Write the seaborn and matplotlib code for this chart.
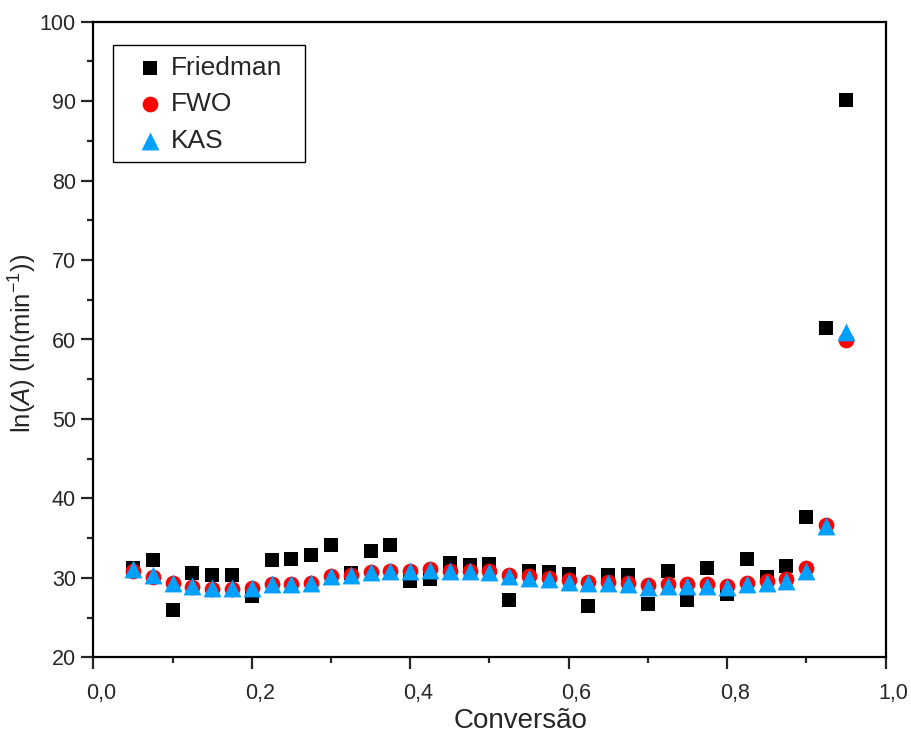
import matplotlib
matplotlib.use("Agg")
import matplotlib.pyplot as plt
import matplotlib.transforms as mtransforms
from matplotlib.patches import Rectangle
import seaborn as sns
import pandas as pd
from matplotlib.ticker import FuncFormatter, MultipleLocator

conversion = [0.05, 0.075, 0.1, 0.125, 0.15, 0.175, 0.2, 0.225, 0.25, 0.275,
              0.3, 0.325, 0.35, 0.375, 0.4, 0.425, 0.45, 0.475, 0.5, 0.525,
              0.55, 0.575, 0.6, 0.625, 0.65, 0.675, 0.7, 0.725, 0.75, 0.775,
              0.8, 0.825, 0.85, 0.875, 0.9, 0.925, 0.95]

friedman = [31.2, 32.2, 25.9, 30.6, 30.3, 30.4, 27.7, 32.3, 32.4, 32.9,
            34.1, 30.6, 33.4, 34.1, 29.6, 29.9, 31.9, 31.6, 31.8, 27.2,
            30.8, 30.7, 30.5, 26.4, 30.3, 30.4, 26.7, 30.8, 27.2, 31.2,
            28.0, 32.4, 30.1, 31.5, 37.6, 61.4, 90.2]

fwo = [30.9, 30.1, 29.3, 28.9, 28.6, 28.6, 28.7, 29.2, 29.2, 29.4,
       30.2, 30.4, 30.7, 30.9, 30.9, 31.1, 30.9, 30.9, 30.8, 30.4,
       30.2, 30.0, 29.7, 29.5, 29.5, 29.4, 29.1, 29.2, 29.2, 29.2,
       29.0, 29.4, 29.6, 29.8, 31.2, 36.7, 59.9]

kas = [31.1, 30.3, 29.4, 29.0, 28.7, 28.7, 28.7, 29.2, 29.2, 29.4,
       30.2, 30.4, 30.7, 30.9, 30.9, 31.0, 30.8, 30.8, 30.7, 30.2,
       30.0, 29.8, 29.5, 29.3, 29.3, 29.2, 28.9, 29.0, 29.0, 29.0,
       28.8, 29.2, 29.4, 29.6, 30.9, 36.5, 61.0]

series_names = ["Friedman", "FWO", "KAS"]

sns.set_style("white")
plt.rcParams['font.family'] = ['Liberation Sans', 'DejaVu Sans']
plt.rcParams['mathtext.fontset'] = 'custom'
plt.rcParams['mathtext.rm'] = 'Liberation Sans'
plt.rcParams['mathtext.it'] = 'Liberation Sans:italic'

n = len(conversion)
df = pd.DataFrame({
    "x": conversion * 3,
    "y": friedman + fwo + kas,
    "method": [series_names[0]] * n + [series_names[1]] * n + [series_names[2]] * n,
})

W, H = 911, 736
fig = plt.figure(figsize=(W / 100, H / 100), dpi=100)
ax = fig.add_axes([93.3 / W, 1 - 657.3 / H, 792.2 / W, 635.6 / H])

palette = {"Friedman": "black", "FWO": "#ff0000", "KAS": "#00a0ff"}
markers = {"Friedman": "s", "FWO": "o", "KAS": "^"}
sizes = {"Friedman": 105, "FWO": 128, "KAS": 165}

for name in series_names:
    sub = df[df["method"] == name]
    sns.scatterplot(data=sub, x="x", y="y", ax=ax, color=palette[name],
                    marker=markers[name], s=sizes[name], linewidth=0,
                    label=name, zorder=3)

ax.set_xlim(0, 1.0)
ax.set_ylim(20, 100)
ax.xaxis.set_major_locator(MultipleLocator(0.2))
ax.xaxis.set_minor_locator(MultipleLocator(0.1))
ax.yaxis.set_major_locator(MultipleLocator(10))
ax.yaxis.set_minor_locator(MultipleLocator(5))
ax.xaxis.set_major_formatter(FuncFormatter(lambda v, p: f"{v:.1f}".replace(".", ",")))
ax.yaxis.set_major_formatter(FuncFormatter(lambda v, p: f"{v:.0f}"))

for sp in ax.spines.values():
    sp.set_linewidth(1.6)
    sp.set_color("black")

ax.tick_params(axis="both", which="major", direction="out", length=8.6, width=1.6,
               labelsize=15.5, bottom=True, left=True, top=False, right=False)
ax.tick_params(axis="x", which="major", pad=10)
ax.tick_params(axis="y", which="major", pad=4)
ax.tick_params(axis="both", which="minor", direction="out", length=4.5, width=1.6,
               bottom=True, left=True, top=False, right=False)

ax.set_xlabel("Conversão", fontsize=20)
ax.set_ylabel(r"ln($\it{A}$) (ln(min$^{-1}$))", fontsize=18.5)
ax.xaxis.set_label_coords(0.539, -0.08)
ax.yaxis.set_label_coords(-0.069, 0.4945)

leg = ax.legend(loc="center left", bbox_to_anchor=(137 / W, 1 - 104.3 / H),
                bbox_transform=fig.transFigure, fontsize=19, frameon=False,
                handletextpad=0.29, borderpad=0.0, borderaxespad=0.0,
                labelspacing=0.48, handlelength=1.0, markerscale=1.0)

frame = Rectangle((113 / W, 1 - 162 / H), 192 / W, 117 / H, transform=fig.transFigure,
                  fill=False, edgecolor="black", linewidth=1.0, zorder=5)
fig.patches.append(frame)

fig.canvas.draw()
offset = mtransforms.ScaledTranslation(8 / 100, 0, fig.dpi_scale_trans)
for lab in ax.get_xticklabels():
    lab.set_transform(lab.get_transform() + offset)

fig.savefig("out.png", dpi=100)
